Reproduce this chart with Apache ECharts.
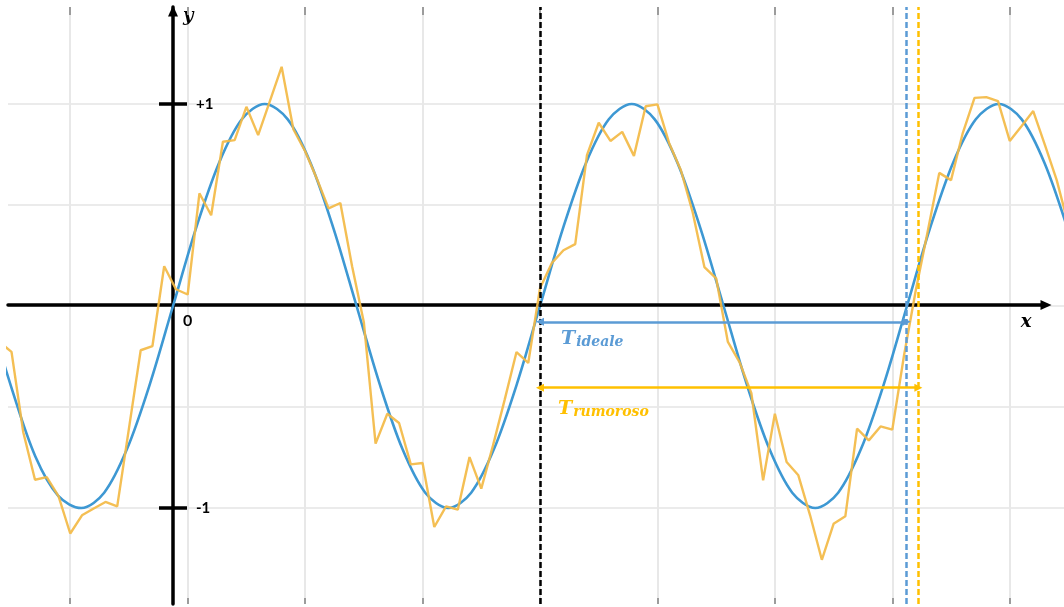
<!DOCTYPE html>
<html>
<head>
<meta charset="utf-8">
<script src="https://cdn.jsdelivr.net/npm/echarts@6/dist/echarts.min.js"></script>
<style>
  html, body { margin: 0; padding: 0; background: #ffffff; }
  #chart { width: 1064px; height: 607px; }
</style>
</head>
<body>
<div id="chart"></div>
<script>
// Grid line positions along x (grid units) and y levels
const gridX = [-1, 0, 1, 2, 3, 4, 5, 6, 7];
const gridY = [-1, -0.5, 0, 0.5, 1];

// Tick labels on the drawn axes
const yTickValues = [-1, 1];
const yTickLabels = ['-1', '+1'];
const xTickValues = [0];
const xTickLabels = ['0'];

// Ideal sine wave (sampled every 1/16 of a period)
const idealX = [
  -1.688, -1.492, -1.297, -1.102, -0.906, -0.711, -0.516, -0.320,
  -0.125, 0.070, 0.266, 0.461, 0.656, 0.852, 1.047, 1.242,
  1.438, 1.633, 1.828, 2.023, 2.219, 2.414, 2.609, 2.805,
  3.000, 3.195, 3.391, 3.586, 3.781, 3.977, 4.172, 4.367,
  4.563, 4.758, 4.953, 5.148, 5.344, 5.539, 5.734, 5.930,
  6.125, 6.320, 6.516, 6.711, 6.906, 7.102, 7.297, 7.492, 7.688
];
const idealY = [
  -0.04, -0.42, -0.745, -0.94, -1, -0.924, -0.707, -0.383,
  0, 0.383, 0.707, 0.924, 1, 0.924, 0.707, 0.383,
  0, -0.383, -0.707, -0.924, -1, -0.924, -0.707, -0.383,
  0, 0.383, 0.707, 0.924, 1, 0.924, 0.707, 0.383,
  0, -0.383, -0.707, -0.924, -1, -0.924, -0.707, -0.383,
  0, 0.383, 0.707, 0.924, 1, 0.924, 0.707, 0.383, 0
];

// Noisy signal samples
const noisyX = [
  -1.6, -1.5, -1.4, -1.3, -1.2, -1.1, -1.0, -0.9, -0.8, -0.7,
  -0.6, -0.5, -0.4, -0.3, -0.2, -0.1, 0.0, 0.1, 0.2, 0.3,
  0.4, 0.5, 0.6, 0.7, 0.8, 0.9, 1.0, 1.1, 1.2, 1.3,
  1.4, 1.5, 1.6, 1.7, 1.8, 1.9, 2.0, 2.1, 2.2, 2.3,
  2.4, 2.5, 2.6, 2.7, 2.8, 2.9, 3.0, 3.1, 3.2, 3.3,
  3.4, 3.5, 3.6, 3.7, 3.8, 3.9, 4.0, 4.1, 4.2, 4.3,
  4.4, 4.5, 4.6, 4.7, 4.8, 4.9, 5.0, 5.1, 5.2, 5.3,
  5.4, 5.5, 5.6, 5.7, 5.8, 5.9, 6.0, 6.1, 6.2, 6.3,
  6.4, 6.5, 6.6, 6.7, 6.8, 6.9, 7.0, 7.1, 7.2, 7.3,
  7.4, 7.5
];
const noisyY = [
  -0.180, -0.227, -0.625, -0.860, -0.847, -0.941, -1.126, -1.036, -1.002, -0.970,
  -0.992, -0.606, -0.219, -0.198, 0.197, 0.083, 0.057, 0.558, 0.449, 0.813,
  0.821, 0.986, 0.846, 1.014, 1.184, 0.875, 0.766, 0.630, 0.483, 0.510,
  0.197, -0.080, -0.681, -0.533, -0.579, -0.784, -0.777, -1.094, -0.992, -1.008,
  -0.748, -0.904, -0.690, -0.462, -0.228, -0.282, 0.088, 0.212, 0.276, 0.306,
  0.747, 0.907, 0.817, 0.862, 0.743, 0.989, 0.998, 0.806, 0.672, 0.464,
  0.193, 0.137, -0.178, -0.279, -0.432, -0.863, -0.533, -0.772, -0.838, -1.036,
  -1.256, -1.078, -1.041, -0.607, -0.665, -0.596, -0.612, -0.244, 0.078, 0.365,
  0.659, 0.623, 0.856, 1.030, 1.034, 1.014, 0.817, 0.890, 0.965, 0.796,
  0.623, 0.400
];

// Period markers: common start, end of each period, and heights of the period arrows
const periodStart = 3.0;
const idealPeriodEnd = 6.123;
const noisyPeriodEnd = 6.222;
const idealArrowLevel = -0.078;
const noisyArrowLevel = -0.404;

const BLUE = '#3d98d3';
const BLUE_MARK = '#5b9bd5';
const GOLD = '#f3ba45';
const GOLD_MARK = '#ffc000';
const SANS = 'Lato, "Open Sans", sans-serif';
const SERIF = '"DejaVu Serif", serif';

// Axis extents: 117.43 px per x unit, plotting area 8..1064 px
const X_MIN = -1.530;
const X_MAX = 7.462;
const X_AXIS_MAX = X_MIN + 1038 / 117.43;
const Y_MIN = -1.475;
const Y_MAX = 1.48;

function pairs(xs, ys) {
  return xs.map((x, i) => [x, ys[i]]);
}

function periodLabel(sub, color, dist) {
  return {
    show: true,
    position: 'insideStartBottom',
    distance: dist,
    color: color,
    formatter: '{t|T}{s|' + sub + '}',
    rich: {
      t: { fontFamily: SERIF, fontStyle: 'italic', fontWeight: 'bold', fontSize: 19, lineHeight: 22, color: color },
      s: { fontFamily: SERIF, fontStyle: 'italic', fontWeight: 'bold', fontSize: 14, lineHeight: 14, padding: [8, 0, 0, 1], color: color }
    }
  };
}

const gridTickStyle = { color: '#9c9c9c', width: 2 };
const axisInk = { color: '#000000', width: 3.5 };

const option = {
  animation: false,
  backgroundColor: '#ffffff',
  grid: [
    { left: 8, right: 0, top: 7, bottom: 3, containLabel: false, outerBoundsMode: 'none' },
    { left: 8, right: 18, top: 305, height: 20, containLabel: false, outerBoundsMode: 'none' }
  ],
  xAxis: [
    {
      type: 'value', gridIndex: 0, position: 'bottom', min: X_MIN, max: X_MAX,
      axisLine: { show: false, onZero: false },
      axisTick: { show: true, inside: true, length: 6, customValues: gridX, lineStyle: gridTickStyle },
      axisLabel: { show: false },
      splitLine: { show: true, lineStyle: { color: '#e8e8e8', width: 2 } }
    },
    {
      type: 'value', gridIndex: 0, position: 'top', min: X_MIN, max: X_MAX,
      axisLine: { show: false, onZero: false },
      axisTick: { show: true, inside: true, length: 8, customValues: gridX, lineStyle: gridTickStyle },
      axisLabel: { show: false },
      splitLine: { show: false }
    },
    {
      type: 'value', gridIndex: 1, position: 'top', min: X_MIN, max: X_AXIS_MAX,
      axisLine: {
        show: true, onZero: false, lineStyle: axisInk,
        symbol: ['none', 'triangle'], symbolSize: [10, 11]
      },
      axisTick: { show: false },
      axisLabel: {
        show: true, inside: true, margin: 8, customValues: xTickValues,
        formatter: v => xTickLabels[xTickValues.indexOf(v)],
        color: '#000000', fontFamily: SANS, fontSize: 16, fontWeight: 'bold'
      },
      splitLine: { show: false },
      name: 'x', nameLocation: 'end', nameGap: -20, nameMoveOverlap: false,
      nameTextStyle: {
        color: '#000000', fontFamily: SERIF, fontStyle: 'italic', fontWeight: 'bold',
        fontSize: 18, align: 'center', verticalAlign: 'top', padding: [8, 0, 0, 0]
      }
    }
  ],
  yAxis: [
    {
      type: 'value', gridIndex: 0, position: 'left', min: Y_MIN, max: Y_MAX,
      axisLine: { show: false, onZero: false },
      axisTick: { show: false, customValues: gridY },
      axisLabel: { show: false },
      splitLine: { show: true, lineStyle: { color: '#ebebeb', width: 2 } }
    },
    {
      type: 'value', gridIndex: 0, position: 'left', min: Y_MIN, max: Y_MAX, offset: -165,
      axisLine: {
        show: true, onZero: false, lineStyle: axisInk,
        symbol: ['none', 'triangle'], symbolSize: [10, 11], symbolOffset: [0, -4]
      },
      axisTick: { show: true, inside: false, length: 14, customValues: yTickValues, lineStyle: axisInk },
      axisLabel: { show: false },
      splitLine: { show: false },
      name: 'y', nameLocation: 'end', nameGap: -9, nameMoveOverlap: false,
      nameTextStyle: {
        color: '#000000', fontFamily: SERIF, fontStyle: 'italic', fontWeight: 'bold',
        fontSize: 18, align: 'left', verticalAlign: 'middle', padding: [0, 0, 0, 10]
      }
    },
    {
      type: 'value', gridIndex: 0, position: 'left', min: Y_MIN, max: Y_MAX, offset: -165,
      axisLine: { show: false, onZero: false },
      axisTick: { show: true, inside: true, length: 14, customValues: yTickValues, lineStyle: axisInk },
      axisLabel: {
        show: true, inside: true, margin: 23, customValues: yTickValues,
        formatter: v => yTickLabels[yTickValues.indexOf(v)],
        color: '#000000', fontFamily: SANS, fontSize: 15, fontWeight: 'bold'
      },
      splitLine: { show: false }
    },
    { type: 'value', gridIndex: 1, position: 'left', min: 0, max: 1, show: false }
  ],
  series: [
    {
      name: 'ideale', type: 'line', xAxisIndex: 0, yAxisIndex: 0,
      data: pairs(idealX, idealY),
      smooth: 0.33, showSymbol: false, symbol: 'none', silent: true, z: 2,
      lineStyle: { color: BLUE, width: 2.6 },
      itemStyle: { color: BLUE },
      emphasis: { disabled: true }
    },
    {
      name: 'rumoroso', type: 'line', xAxisIndex: 0, yAxisIndex: 0,
      data: pairs(noisyX, noisyY),
      showSymbol: false, symbol: 'none', silent: true, z: 3,
      lineStyle: { color: GOLD, width: 2.4, opacity: 0.92 },
      itemStyle: { color: GOLD },
      emphasis: { disabled: true },
      markLine: {
        silent: true, animation: false, symbol: 'none',
        label: { show: false },
        emphasis: { disabled: true },
        data: [
          { xAxis: periodStart, lineStyle: { color: '#000000', type: [6, 3], width: 2.5 } },
          { xAxis: idealPeriodEnd, lineStyle: { color: BLUE_MARK, type: [6, 3], width: 2.5 } },
          { xAxis: noisyPeriodEnd, lineStyle: { color: GOLD_MARK, type: [6, 3], width: 2.5 } },
          [
            {
              coord: [periodStart, idealArrowLevel], symbol: 'triangle', symbolSize: 8,
              lineStyle: { color: BLUE_MARK, type: 'solid', width: 2.5 },
              label: periodLabel('ideale', BLUE_MARK, [21, 6])
            },
            { coord: [idealPeriodEnd, idealArrowLevel], symbol: 'triangle', symbolSize: 8 }
          ],
          [
            {
              coord: [periodStart, noisyArrowLevel], symbol: 'triangle', symbolSize: 8,
              lineStyle: { color: GOLD_MARK, type: 'solid', width: 2.5 },
              label: periodLabel('rumoroso', GOLD_MARK, [18, 10])
            },
            { coord: [noisyPeriodEnd, noisyArrowLevel], symbol: 'triangle', symbolSize: 8 }
          ]
        ]
      }
    }
  ]
};

const chart = echarts.init(document.getElementById('chart'), null, { renderer: 'canvas' });
chart.setOption(option);
</script>
</body>
</html>
